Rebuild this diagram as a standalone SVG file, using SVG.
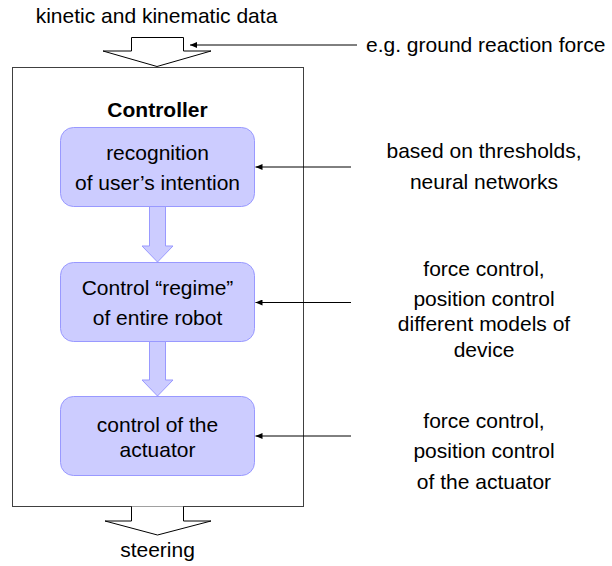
<svg xmlns="http://www.w3.org/2000/svg" width="612" height="566" viewBox="0 0 612 566">
<defs>
<style>
text{font-family:"Liberation Sans",Arial,sans-serif;font-size:21px;fill:#000}
.c{text-anchor:middle}
.b{font-weight:bold}
.node{fill:#ccccff;stroke:#9999ff;stroke-width:1}
.flow{fill:#ccccff;stroke:#9999ff;stroke-width:1}
.io{fill:#fff;stroke:#000;stroke-width:1}
.ptr{stroke:#000;stroke-width:1;fill:none;marker-end:url(#ah)}
</style>
<marker id="ah" markerWidth="8" markerHeight="6" refX="7" refY="3" orient="auto" markerUnits="userSpaceOnUse">
<path d="M0,0 L7,3 L0,6 Z" fill="#000"/>
</marker>
</defs>
<rect width="612" height="566" fill="#fff"/>

<g id="controller">
<rect x="12.5" y="67.5" width="291" height="439" fill="none" stroke="#404040" stroke-width="1"/>
<text class="c b" x="157.5" y="117">Controller</text>
</g>

<g id="input">
<text class="c" x="156.5" y="23">kinetic and kinematic data</text>
<path class="io" d="M131.5,37.5 H183.5 V51 H211 L157,66.5 L103,51 H131.5 Z"/>
</g>

<g id="output">
<path class="io" d="M131.5,506.5 V521 H105 L157.5,535 L211,521 H183.5 V506.5"/>
<text class="c" x="157.5" y="557">steering</text>
</g>

<g id="node1">
<rect class="node" x="60.5" y="127.5" width="194" height="79" rx="13"/>
<text class="c" x="157.5" y="160">recognition</text>
<text class="c" x="157.5" y="190">of user’s intention</text>
</g>

<g id="node2">
<rect class="node" x="60.5" y="262.5" width="194" height="79" rx="13"/>
<text class="c" x="157.5" y="295">Control “regime”</text>
<text class="c" x="157.5" y="325">of entire robot</text>
</g>

<g id="node3">
<rect class="node" x="60.5" y="396.5" width="194" height="79" rx="13"/>
<text class="c" x="157.5" y="432">control of the</text>
<text class="c" x="157.5" y="457">actuator</text>
</g>

<g id="label-ground">
<text x="366" y="52">e.g. ground reaction force</text>
</g>
<g id="label-thresholds">
<text class="c" x="484" y="158">based on thresholds,</text>
<text class="c" x="484" y="189">neural networks</text>
</g>
<g id="label-regime">
<text class="c" x="484" y="276">force control,</text>
<text class="c" x="484" y="306">position control</text>
<text class="c" x="484" y="331">different models of</text>
<text class="c" x="484" y="357">device</text>
</g>
<g id="label-actuator">
<text class="c" x="484" y="428">force control,</text>
<text class="c" x="484" y="458">position control</text>
<text class="c" x="484" y="489">of the actuator</text>
</g>

<g id="connectors">
<path class="flow" d="M149.5,206.5 H165.5 V246 H173 L157.5,262 L142,246 H149.5 Z"/>
<path class="flow" d="M149.5,341.5 H165.5 V380 H173 L157.5,396 L142,380 H149.5 Z"/>
<line class="ptr" x1="357" y1="45" x2="190" y2="45"/>
<line class="ptr" x1="351" y1="167" x2="255.5" y2="167"/>
<line class="ptr" x1="351" y1="302.5" x2="255.5" y2="302.5"/>
<line class="ptr" x1="351" y1="436" x2="255.5" y2="436"/>
</g>
</svg>
